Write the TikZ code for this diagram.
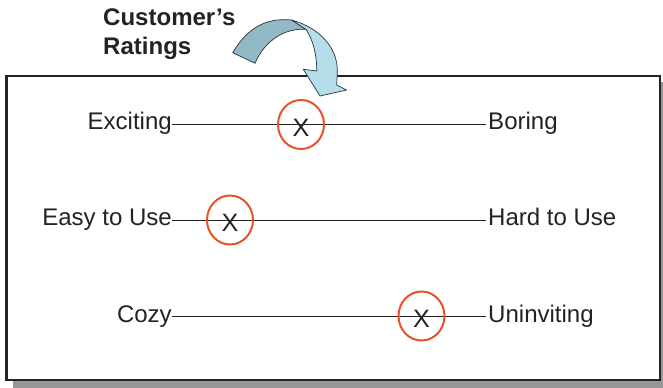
\documentclass[tikz,border=0pt]{standalone}
\usepackage{fontspec}
\setmainfont{Liberation Sans}
\usepackage{tikz}
\usetikzlibrary{shapes.geometric, positioning, calc}
\definecolor{mydark}{RGB}{35,35,35}
\definecolor{myshadow}{RGB}{150,150,152}
\definecolor{myorange}{RGB}{232,82,40}
\definecolor{arrowdark}{RGB}{146,186,197}
\definecolor{arrowlight}{RGB}{181,222,234}
\definecolor{arrowedge}{RGB}{40,55,60}
\tikzset{
  lbl/.style={inner sep=0pt, font=\fontsize{20.5}{24}\selectfont, text=mydark},
  title/.style={inner sep=0pt, align=left, font=\fontsize{20.5}{24.5}\selectfont\bfseries, text=mydark},
  markcirc/.style={ellipse, draw=myorange, line width=1.7pt, minimum width=0.138cm*10, minimum height=0.147cm*10, inner sep=0pt},
  markx/.style={inner sep=0pt, font=\fontsize{21.5}{24}\selectfont, text=mydark},
  scaleline/.style={line width=0.8pt, color=mydark},
  frame/.style={line width=2.5pt, draw=mydark, fill=white},
  arrowpart/.style={draw=arrowedge, line width=0.6pt, line join=round}
}
\begin{document}
\begin{tikzpicture}[x=0.03cm, y=-0.03cm]
  \useasboundingbox (0,0) rectangle (663,388);

  % frame with shadow
  \fill[myshadow] (12.5,82) rectangle (668,388);
  \draw[frame] (6.5,76) rectangle (660,380);

  % title
  \node[title, anchor=north west] (ttl) at (103,8.5) {Customer’s\\Ratings};

  % curved arrow
  \draw[arrowpart, fill=arrowdark] (232.7,52.7) .. controls (245,32) and (262,17) .. (291.7,20)
    -- (306,29.3) .. controls (285,28) and (265,40) .. (255,63.3) -- cycle;
  \draw[arrowpart, fill=arrowlight] (291.7,20) .. controls (320,28) and (338,48) .. (337.3,72)
    -- (336.7,85) -- (346.7,90) -- (320,96) -- (303.3,69.3) -- (316.7,71)
    .. controls (317,55) and (313,40) .. (306,29.3) -- cycle;

  % scale ends
  \coordinate (l1) at (172,124);
  \coordinate (r1) at (486,124);
  \coordinate (l2) at (172,220);
  \coordinate (r2) at (486,220);
  \coordinate (l3) at (172,316);
  \coordinate (r3) at (486,316);

  \node[lbl, anchor=base east, yshift=-0.16cm] (exc) at (l1) {Exciting};
  \node[lbl, anchor=base west, yshift=-0.16cm, xshift=0.06cm] (bor) at (r1) {Boring};
  \node[lbl, anchor=base east, yshift=-0.17cm] (easy) at (l2) {Easy to Use};
  \node[lbl, anchor=base west, yshift=-0.17cm, xshift=0.06cm] (hard) at (r2) {Hard to Use};
  \node[lbl, anchor=base east, yshift=-0.18cm] (cozy) at (l3) {Cozy};
  \node[lbl, anchor=base west, yshift=-0.18cm, xshift=0.06cm] (uninv) at (r3) {Uninviting};

  \draw[scaleline] (l1) -- (r1);
  \draw[scaleline] (l2) -- (r2);
  \draw[scaleline] (l3) -- (r3);

  % ratings
  \node[markcirc] (c1) at (301,124.5) {};
  \node[markcirc] (c2) at (230,220) {};
  \node[markcirc] (c3) at (421.5,316) {};
  \node[markx] (x1) at ($(c1.center)+(0,3)$) {X};
  \node[markx] (x2) at ($(c2.center)+(0,3)$) {X};
  \node[markx] (x3) at ($(c3.center)+(0,3)$) {X};
\end{tikzpicture}
\end{document}
